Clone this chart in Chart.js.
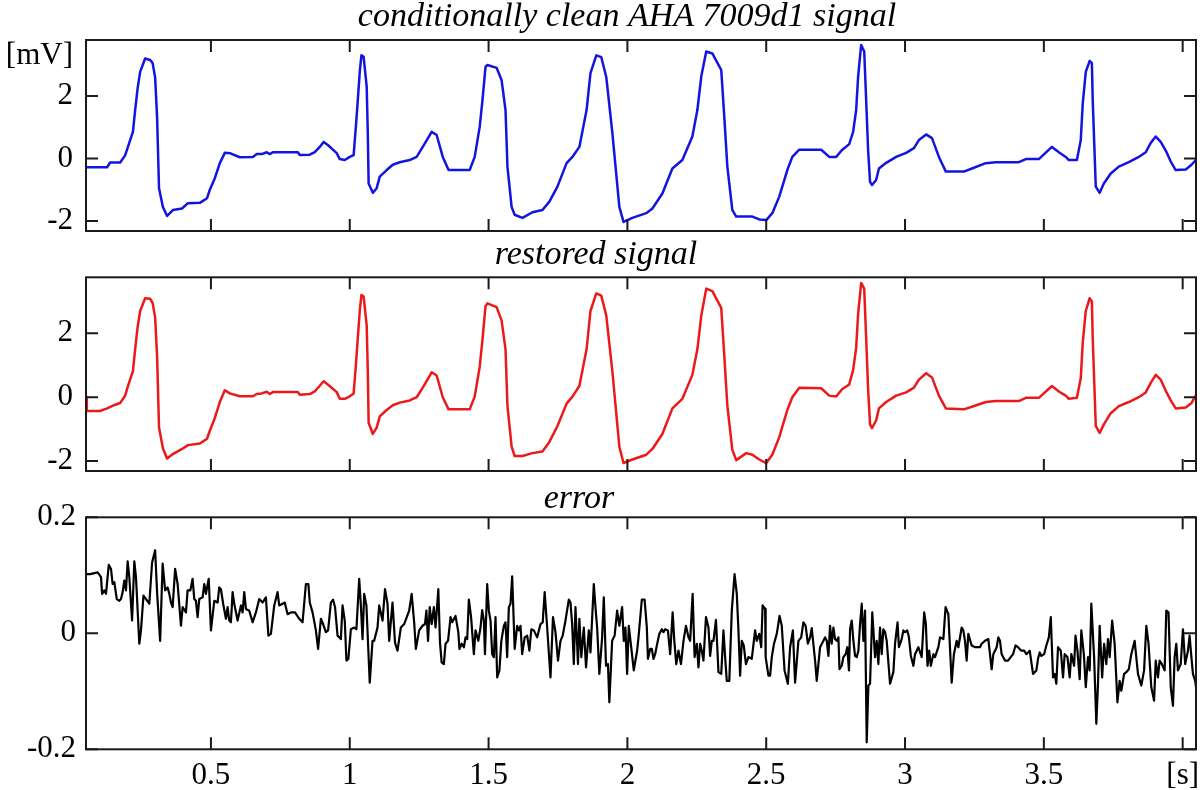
<!DOCTYPE html>
<html>
<head>
<meta charset="utf-8">
<script src="https://cdn.jsdelivr.net/npm/chart.js@4.4.1/dist/chart.umd.min.js"></script>
<style>
  body { margin: 0; background: #fff; }
  #wrap { position: relative; width: 1200px; height: 790px; }
  .panel { position: absolute; left: 0; width: 1200px; }
</style>
</head>
<body>
<div id="wrap">
  <div class="panel" style="top:0;height:240px"><canvas id="clean"></canvas></div>
  <div class="panel" style="top:240px;height:240px"><canvas id="restored"></canvas></div>
  <div class="panel" style="top:480px;height:310px"><canvas id="error"></canvas></div>
</div>
<script>
// tick values
var xTicks = [0.5, 1, 1.5, 2, 2.5, 3, 3.5, 4];
var mvTicks = [-2, 0, 2];
var errTicks = [-0.2, 0, 0.2];
var mvLabelAt = 3.28; // where the [mV] unit sits on the top axis

// clean AHA 7009d1 signal (s, mV)
var cleanT = [0.050,0.126,0.137,0.173,0.191,0.201,0.219,0.227,0.236,0.245,0.263,0.281,0.290,0.299,0.306,0.313,0.327,0.342,0.363,0.396,
  0.417,0.460,0.486,0.496,0.514,0.532,0.550,0.568,0.604,0.651,0.665,0.683,0.701,0.712,0.723,0.813,0.820,0.856,0.874,0.892,
  0.906,0.921,0.953,0.964,0.982,1.000,1.014,1.022,1.029,1.036,1.042,1.050,1.061,1.065,1.068,1.083,1.097,1.108,1.133,1.155,
  1.180,1.216,1.241,1.263,1.295,1.313,1.335,1.356,1.432,1.450,1.468,1.478,1.489,1.496,1.529,1.547,1.561,1.568,1.583,1.594,
  1.622,1.658,1.694,1.719,1.748,1.781,1.802,1.827,1.853,1.867,1.888,1.906,1.924,1.946,1.971,1.986,2.018,2.068,2.090,2.126,
  2.162,2.198,2.234,2.252,2.266,2.284,2.306,2.338,2.349,2.360,2.378,2.392,2.450,2.475,2.500,2.522,2.547,2.576,2.594,2.619,
  2.698,2.727,2.752,2.773,2.799,2.813,2.824,2.831,2.842,2.853,2.860,2.867,2.874,2.881,2.896,2.906,2.932,2.968,3.004,3.032,
  3.050,3.076,3.097,3.122,3.147,3.212,3.241,3.291,3.327,3.410,3.435,3.482,3.529,3.554,3.579,3.590,3.619,3.633,3.640,3.651,
  3.665,3.673,3.676,3.687,3.701,3.716,3.741,3.770,3.806,3.842,3.867,3.885,3.903,3.921,3.942,3.957,3.975,4.011,4.032,4.047];
var cleanV = [-0.28,-0.28,-0.13,-0.13,0.10,0.37,0.85,1.55,2.25,2.77,3.20,3.15,3.05,2.60,1.33,-0.95,-1.55,-1.84,-1.65,-1.60,
  -1.43,-1.42,-1.27,-1.00,-0.63,-0.15,0.18,0.17,0.04,0.05,0.14,0.14,0.20,0.14,0.20,0.20,0.11,0.12,0.20,0.37,
  0.53,0.43,0.17,-0.02,-0.05,0.05,0.11,1.01,1.87,2.77,3.30,3.25,2.30,0.80,-0.80,-1.10,-0.95,-0.58,-0.37,-0.20,
  -0.12,-0.05,0.05,0.37,0.85,0.75,0.05,-0.37,-0.37,0.05,1.01,1.87,2.93,2.99,2.90,2.50,1.55,-0.27,-1.55,-1.80,
  -1.90,-1.72,-1.65,-1.38,-0.90,-0.15,0.05,0.37,1.55,2.73,3.30,3.24,2.60,0.80,-1.55,-2.03,-1.90,-1.75,-1.60,-1.12,
  -0.32,-0.05,0.70,1.55,2.62,3.42,3.36,2.83,1.33,-0.26,-1.65,-1.86,-1.86,-1.95,-1.97,-1.75,-1.22,-0.37,0.05,0.28,
  0.28,0.05,0.05,0.27,0.46,0.85,1.55,2.62,3.63,3.42,1.87,0.27,-0.75,-0.85,-0.69,-0.32,-0.14,0.05,0.18,0.33,
  0.59,0.77,0.65,0.05,-0.42,-0.42,-0.32,-0.15,-0.12,-0.12,-0.02,-0.02,0.37,0.20,0.05,-0.05,-0.05,0.59,1.75,2.77,
  3.12,3.05,1.87,-0.90,-1.10,-0.80,-0.48,-0.26,-0.12,0.05,0.20,0.50,0.70,0.53,0.20,-0.10,-0.37,-0.35,-0.20,-0.05];

// restored signal (s, mV)
var restT = [0.050,0.053,0.100,0.126,0.151,0.173,0.191,0.201,0.219,0.227,0.236,0.245,0.263,0.281,0.290,0.299,0.306,0.313,0.327,0.342,
  0.363,0.396,0.417,0.460,0.486,0.496,0.514,0.532,0.550,0.568,0.604,0.651,0.665,0.683,0.701,0.712,0.723,0.813,0.820,0.856,
  0.874,0.892,0.906,0.921,0.953,0.964,0.982,1.000,1.014,1.022,1.029,1.036,1.042,1.050,1.061,1.065,1.068,1.083,1.097,1.108,
  1.133,1.155,1.180,1.216,1.241,1.263,1.295,1.313,1.335,1.356,1.432,1.450,1.468,1.478,1.489,1.496,1.529,1.547,1.561,1.568,
  1.583,1.594,1.622,1.658,1.694,1.719,1.748,1.781,1.802,1.827,1.853,1.867,1.888,1.906,1.924,1.946,1.971,1.986,2.018,2.068,
  2.090,2.126,2.162,2.198,2.234,2.252,2.266,2.284,2.306,2.338,2.349,2.360,2.378,2.392,2.428,2.450,2.475,2.500,2.522,2.547,
  2.576,2.594,2.619,2.698,2.727,2.752,2.773,2.799,2.813,2.824,2.831,2.842,2.853,2.860,2.867,2.874,2.881,2.896,2.906,2.932,
  2.968,3.004,3.032,3.050,3.076,3.097,3.122,3.147,3.212,3.241,3.291,3.327,3.410,3.435,3.482,3.529,3.554,3.579,3.590,3.619,
  3.633,3.640,3.651,3.665,3.673,3.676,3.687,3.701,3.716,3.741,3.770,3.806,3.842,3.867,3.885,3.903,3.921,3.942,3.957,3.975,
  4.011,4.032,4.047];
var restV = [0.00,-0.43,-0.43,-0.35,-0.25,-0.18,0.05,0.35,0.82,1.50,2.20,2.70,3.10,3.08,2.95,2.50,1.30,-0.95,-1.60,-1.92,
  -1.78,-1.62,-1.50,-1.45,-1.30,-1.05,-0.65,-0.15,0.22,0.12,0.03,0.03,0.10,0.12,0.17,0.10,0.16,0.16,0.08,0.10,
  0.18,0.36,0.50,0.40,0.16,-0.05,-0.05,0.03,0.12,1.00,1.85,2.70,3.20,3.15,2.25,0.80,-0.80,-1.15,-0.95,-0.60,
  -0.40,-0.25,-0.17,-0.10,0.00,0.30,0.78,0.68,0.00,-0.38,-0.38,0.02,0.95,1.80,2.85,2.94,2.82,2.40,1.50,-0.27,
  -1.55,-1.84,-1.84,-1.75,-1.70,-1.40,-0.90,-0.20,0.02,0.35,1.50,2.70,3.25,3.18,2.55,0.80,-1.55,-2.06,-1.95,-1.80,
  -1.62,-1.15,-0.35,-0.05,0.70,1.50,2.55,3.40,3.32,2.80,1.30,-0.26,-1.65,-1.97,-1.75,-1.80,-1.95,-2.06,-1.80,-1.25,
  -0.40,0.00,0.30,0.28,0.05,0.02,0.25,0.40,0.85,1.55,2.60,3.58,3.40,1.85,0.25,-0.85,-0.97,-0.72,-0.35,-0.15,
  0.05,0.15,0.30,0.55,0.75,0.62,0.05,-0.35,-0.38,-0.30,-0.15,-0.12,-0.12,-0.02,-0.02,0.35,0.18,0.05,-0.05,-0.02,
  0.60,1.70,2.70,3.10,3.00,1.85,-0.90,-1.12,-0.85,-0.50,-0.28,-0.15,0.00,0.15,0.45,0.70,0.55,0.15,-0.10,-0.35,
  -0.32,-0.18,0.05];

// error (s, mV)
var errT = [0.050,0.065,0.092,0.104,0.108,0.116,0.122,0.132,0.140,0.146,0.152,0.161,0.170,0.176,0.182,0.188,0.194,0.200,0.206,0.216,
  0.224,0.230,0.242,0.248,0.257,0.266,0.278,0.288,0.299,0.306,0.317,0.326,0.335,0.344,0.350,0.356,0.362,0.371,0.380,0.392,
  0.398,0.410,0.416,0.426,0.434,0.440,0.446,0.452,0.458,0.470,0.476,0.482,0.492,0.500,0.512,0.524,0.530,0.536,0.544,0.554,
  0.560,0.566,0.572,0.578,0.584,0.596,0.608,0.614,0.620,0.626,0.638,0.650,0.662,0.674,0.686,0.698,0.707,0.716,0.728,0.740,
  0.746,0.758,0.766,0.776,0.788,0.803,0.818,0.830,0.842,0.851,0.856,0.866,0.878,0.886,0.896,0.904,0.914,0.922,0.932,0.940,
  0.947,0.956,0.962,0.968,0.974,0.982,0.988,0.995,1.004,1.016,1.024,1.034,1.040,1.046,1.052,1.060,1.072,1.082,1.088,1.100,
  1.106,1.118,1.127,1.136,1.142,1.154,1.163,1.172,1.184,1.196,1.214,1.223,1.232,1.238,1.250,1.262,1.271,1.276,1.282,1.288,
  1.295,1.303,1.309,1.319,1.325,1.331,1.339,1.345,1.354,1.363,1.369,1.381,1.391,1.395,1.403,1.411,1.417,1.423,1.429,1.437,
  1.447,1.453,1.463,1.471,1.477,1.483,1.487,1.495,1.501,1.507,1.513,1.519,1.525,1.531,1.539,1.546,1.555,1.561,1.567,1.573,
  1.579,1.585,1.594,1.603,1.609,1.615,1.621,1.630,1.639,1.647,1.654,1.663,1.675,1.687,1.695,1.702,1.711,1.723,1.732,1.741,
  1.750,1.759,1.767,1.777,1.789,1.795,1.801,1.807,1.813,1.822,1.827,1.834,1.843,1.851,1.861,1.867,1.879,1.885,1.891,1.899,
  1.909,1.915,1.923,1.930,1.935,1.945,1.954,1.963,1.971,1.981,1.987,1.993,1.999,2.005,2.013,2.023,2.035,2.040,2.052,2.062,
  2.070,2.074,2.082,2.088,2.094,2.100,2.106,2.115,2.124,2.130,2.136,2.146,2.154,2.163,2.169,2.176,2.184,2.193,2.202,2.211,
  2.220,2.226,2.235,2.242,2.250,2.256,2.262,2.268,2.274,2.283,2.292,2.298,2.304,2.310,2.319,2.328,2.338,2.346,2.352,2.358,
  2.367,2.376,2.386,2.394,2.400,2.406,2.412,2.419,2.427,2.436,2.448,2.460,2.466,2.475,2.482,2.487,2.496,2.498,2.508,2.514,
  2.520,2.528,2.538,2.548,2.556,2.566,2.578,2.586,2.596,2.604,2.616,2.626,2.634,2.642,2.650,2.658,2.664,2.676,2.682,2.694,
  2.706,2.712,2.718,2.724,2.730,2.736,2.742,2.748,2.754,2.760,2.764,2.772,2.778,2.786,2.792,2.798,2.802,2.808,2.814,2.820,
  2.826,2.832,2.838,2.844,2.850,2.856,2.862,2.868,2.874,2.882,2.892,2.898,2.904,2.910,2.916,2.922,2.928,2.934,2.946,2.958,
  2.964,2.973,2.978,2.988,2.994,3.000,3.008,3.014,3.021,3.030,3.036,3.048,3.060,3.069,3.075,3.081,3.087,3.093,3.102,3.108,
  3.120,3.126,3.138,3.146,3.156,3.168,3.176,3.186,3.192,3.204,3.210,3.216,3.222,3.228,3.240,3.252,3.270,3.276,3.288,3.300,
  3.312,3.318,3.330,3.336,3.342,3.348,3.360,3.371,3.389,3.398,3.407,3.419,3.429,3.437,3.449,3.461,3.473,3.479,3.485,3.491,
  3.501,3.509,3.518,3.525,3.533,3.539,3.545,3.551,3.561,3.569,3.575,3.585,3.593,3.599,3.609,3.614,3.621,3.629,3.635,3.644,
  3.651,3.659,3.665,3.671,3.681,3.689,3.695,3.701,3.710,3.717,3.725,3.731,3.737,3.746,3.755,3.765,3.773,3.779,3.789,3.797,
  3.806,3.815,3.827,3.839,3.851,3.861,3.869,3.877,3.887,3.897,3.903,3.911,3.917,3.925,3.935,3.941,3.949,3.957,3.965,3.971,
  3.977,3.983,3.993,4.001,4.009,4.019,4.025,4.031,4.037,4.045,4.050];
var errV = [0.102,0.102,0.105,0.097,0.068,0.074,0.068,0.118,0.111,0.085,0.088,0.059,0.056,0.059,0.071,0.091,0.074,0.124,0.097,0.022,
  0.124,0.097,-0.018,0.005,0.065,0.059,0.051,0.122,0.143,0.071,-0.013,0.120,0.074,0.079,0.068,0.053,0.045,0.111,0.085,0.013,
  0.045,0.036,0.074,0.074,0.094,0.059,0.056,0.028,0.059,0.062,0.085,0.068,0.094,0.005,0.056,0.053,0.079,0.076,0.051,0.025,
  0.045,0.022,0.019,0.071,0.051,0.022,0.048,0.036,0.071,0.042,0.039,0.019,0.036,0.059,0.053,0.062,-0.004,-0.001,0.048,0.071,
  0.048,0.051,0.053,0.033,0.036,0.036,0.025,0.019,0.085,0.085,0.053,0.036,0.005,-0.027,0.025,0.016,0.002,0.005,0.053,0.058,
  0.045,-0.004,-0.007,-0.010,0.048,0.022,-0.047,-0.044,0.007,0.010,0.007,0.094,0.048,-0.010,0.068,0.048,-0.085,-0.013,-0.013,0.010,
  0.048,0.022,0.076,0.051,-0.013,0.053,-0.016,-0.030,0.010,0.016,0.039,0.068,0.019,-0.027,0.005,0.013,0.016,0.039,-0.013,0.045,
  0.016,0.045,0.010,0.076,-0.016,-0.050,-0.053,-0.018,-0.013,0.028,0.019,0.030,0.002,-0.027,-0.018,-0.024,-0.007,-0.010,0.058,0.028,
  -0.036,0.005,-0.013,0.010,0.040,0.022,-0.036,0.085,0.039,0.022,-0.036,-0.041,0.028,-0.076,-0.064,-0.013,0.013,0.019,-0.041,0.045,
  0.051,0.098,-0.027,0.013,0.005,0.013,-0.036,-0.007,-0.004,-0.030,0.007,0.005,-0.007,0.016,0.019,0.071,0.010,-0.076,0.028,0.002,
  -0.047,-0.013,-0.004,0.022,0.058,0.053,0.016,-0.053,0.045,-0.053,0.025,-0.041,0.010,-0.059,0.005,-0.033,0.085,0.045,0.010,-0.070,
  -0.007,0.062,-0.056,-0.053,-0.119,-0.013,-0.004,0.039,0.013,0.045,-0.013,0.010,-0.070,0.013,-0.021,-0.064,-0.030,-0.007,0.058,0.058,
  0.010,-0.044,-0.027,-0.027,-0.044,-0.036,-0.021,-0.001,0.007,0.002,0.007,0.005,-0.036,0.036,-0.013,-0.053,-0.030,-0.053,-0.013,0.013,
  -0.007,-0.013,0.068,-0.041,-0.018,-0.059,-0.018,-0.030,-0.047,0.028,0.010,-0.039,-0.013,-0.013,0.023,-0.067,-0.070,0.005,-0.041,-0.082,
  -0.082,0.039,0.102,0.068,0.005,-0.073,-0.013,-0.021,-0.053,-0.041,-0.044,0.005,-0.013,-0.001,-0.024,0.048,0.042,-0.041,-0.073,-0.073,
  -0.041,-0.018,-0.001,0.030,0.013,-0.064,-0.087,-0.024,0.005,-0.085,-0.013,-0.007,0.019,0.013,-0.018,-0.007,0.009,-0.047,-0.082,-0.024,
  -0.013,-0.007,-0.013,-0.039,0.013,-0.018,0.010,-0.010,-0.013,-0.007,-0.062,-0.056,-0.041,-0.036,-0.024,-0.064,0.007,0.022,-0.013,-0.039,
  -0.041,-0.030,0.016,0.051,-0.013,0.039,-0.188,-0.090,-0.087,0.036,-0.041,-0.013,-0.053,0.010,-0.036,0.007,0.002,-0.013,-0.087,-0.067,
  -0.018,0.019,-0.024,-0.010,0.005,0.002,0.005,-0.007,-0.039,-0.056,-0.036,-0.024,-0.041,0.036,0.016,-0.056,-0.030,-0.056,-0.036,-0.041,
  -0.024,-0.007,-0.010,0.045,0.033,-0.085,-0.036,-0.013,-0.024,0.010,0.005,-0.013,-0.047,-0.001,-0.021,-0.024,-0.024,-0.018,-0.013,-0.010,
  -0.062,-0.036,-0.024,-0.007,-0.013,-0.036,-0.047,-0.047,-0.036,-0.021,-0.024,-0.030,-0.030,-0.036,-0.030,-0.070,-0.064,-0.044,-0.033,-0.039,
  -0.036,-0.021,-0.007,0.028,-0.076,-0.070,-0.087,-0.024,-0.030,-0.076,-0.036,-0.041,-0.076,-0.036,-0.056,-0.004,-0.030,-0.079,0.005,-0.036,
  -0.093,-0.041,-0.064,0.051,-0.041,-0.156,-0.087,0.013,-0.076,-0.018,-0.053,-0.010,-0.041,0.022,-0.018,-0.119,-0.082,-0.099,-0.070,-0.067,
  -0.062,-0.036,-0.013,-0.070,-0.090,-0.064,0.013,-0.018,-0.093,-0.116,-0.047,-0.076,-0.047,-0.053,-0.064,0.039,0.036,-0.093,-0.125,-0.041,
  -0.018,-0.064,-0.053,0.007,-0.053,-0.030,-0.004,-0.039,-0.070,-0.082,-0.100];

Chart.defaults.font.family = '"Liberation Serif", "Times New Roman", serif';
Chart.defaults.color = '#000';

function pts(ts, vs) {
  return ts.map(function (t, i) { return { x: t, y: vs[i] }; });
}

// box round the plot, inward tick marks, italic title
var framePlugin = {
  id: 'frame',
  afterDraw: function (chart, args, o) {
    var ctx = chart.ctx, a = chart.chartArea;
    var xs = chart.scales.x, ys = chart.scales.y;
    ctx.save();
    ctx.strokeStyle = '#1a1a1a';
    ctx.lineWidth = 2;
    ctx.strokeRect(a.left, a.top, a.right - a.left, a.bottom - a.top);
    ctx.beginPath();
    xTicks.forEach(function (v) {
      var p = xs.getPixelForValue(v);
      ctx.moveTo(p, a.top); ctx.lineTo(p, a.top + 12);
      ctx.moveTo(p, a.bottom); ctx.lineTo(p, a.bottom - 12);
    });
    o.yMarks.forEach(function (v) {
      var p = ys.getPixelForValue(v);
      ctx.moveTo(a.left, p); ctx.lineTo(a.left + 12, p);
      ctx.moveTo(a.right, p); ctx.lineTo(a.right - 12, p);
    });
    ctx.stroke();
    ctx.font = 'italic 34px "Liberation Serif"';
    ctx.fillStyle = '#000';
    ctx.textAlign = 'center';
    ctx.textBaseline = 'alphabetic';
    ctx.fillText(o.title, o.titleX, o.titleY);
    ctx.restore();
  }
};

function makePanel(id, cfg) {
  return new Chart(document.getElementById(id), {
    type: 'line',
    data: {
      datasets: [{
        data: cfg.data,
        borderColor: cfg.color,
        borderWidth: cfg.lineWidth,
        borderJoinStyle: 'round',
        pointRadius: 0,
        tension: 0,
        fill: false
      }]
    },
    options: {
      responsive: true,
      maintainAspectRatio: false,
      animation: false,
      layout: { padding: { left: 0, right: 4, top: cfg.top, bottom: 0 } },
      plugins: {
        legend: { display: false },
        tooltip: { enabled: false },
        frame: { yMarks: cfg.yMarks, title: cfg.title, titleX: cfg.titleX, titleY: cfg.titleY }
      },
      scales: {
        x: {
          type: 'linear',
          min: 0.05,
          max: 4.048,
          grid: { display: false, drawTicks: false },
          border: { display: false },
          afterBuildTicks: function (s) { s.ticks = xTicks.map(function (v) { return { value: v }; }); },
          afterFit: function (s) { s.height = cfg.xHeight; s.paddingLeft = 0; s.paddingRight = 0; },
          ticks: {
            display: cfg.xLabels,
            font: { size: 31 },
            padding: 8,
            maxRotation: 0,
            autoSkip: false,
            callback: function (v) { return v === 4 ? '[s]' : String(v); }
          }
        },
        y: {
          min: cfg.yMin,
          max: cfg.yMax,
          grid: { display: false, drawTicks: false },
          border: { display: false },
          afterBuildTicks: function (s) { s.ticks = cfg.yLabels.map(function (v) { return { value: v }; }); },
          afterFit: function (s) { s.width = 86; s.paddingTop = 0; s.paddingBottom = 0; },
          ticks: {
            font: { size: 31 },
            padding: cfg.yPad,
            autoSkip: false,
            callback: function (v) { return v === mvLabelAt ? '[mV]' : String(v); }
          }
        }
      }
    },
    plugins: [framePlugin]
  });
}

makePanel('clean', {
  data: pts(cleanT, cleanV), color: 'rgb(20,20,225)', lineWidth: 2.5,
  top: 40, xHeight: 9, xLabels: false,
  yMin: -2.32, yMax: 3.79, yMarks: mvTicks, yLabels: mvTicks.concat([mvLabelAt]), yPad: 13,
  title: 'conditionally clean AHA 7009d1 signal', titleX: 627, titleY: 26
});

makePanel('restored', {
  data: pts(restT, restV), color: 'rgb(235,25,25)', lineWidth: 2.5,
  top: 37.3, xHeight: 9, xLabels: false,
  yMin: -2.31, yMax: 3.755, yMarks: mvTicks, yLabels: mvTicks, yPad: 13,
  title: 'restored signal', titleX: 596, titleY: 23.5
});

makePanel('error', {
  data: pts(errT, errV), color: '#000', lineWidth: 2.2,
  top: 37.3, xHeight: 40.7, xLabels: true,
  yMin: -0.2, yMax: 0.2, yMarks: errTicks, yLabels: errTicks, yPad: 10,
  title: 'error', titleX: 579, titleY: 28.3
});
</script>
</body>
</html>
